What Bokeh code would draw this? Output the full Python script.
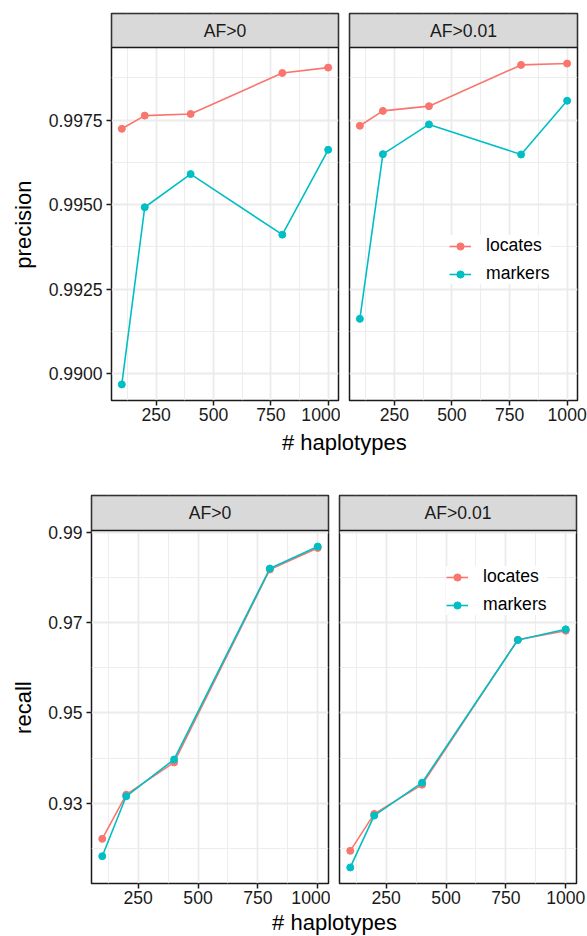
import math
from bokeh.plotting import figure
from bokeh.models import (Range1d, FixedTicker, NumeralTickFormatter, Label,
                          Legend, LegendItem)
from bokeh.layouts import column, row
from bokeh.embed import file_html
from bokeh.resources import INLINE

# ---------------- data ----------------
haplotypes = [100, 200, 400, 800, 1000]
facets = ["AF>0", "AF>0.01"]
series = ["locates", "markers"]

precision_af0_locates = [0.99724, 0.99763, 0.99768, 0.99889, 0.99905]
precision_af0_markers = [0.98968, 0.99492, 0.99590, 0.99411, 0.99662]
precision_af001_locates = [0.99733, 0.99777, 0.99791, 0.99913, 0.99917]
precision_af001_markers = [0.99162, 0.99649, 0.99737, 0.99648, 0.99807]

recall_af0_locates = [0.92214, 0.93192, 0.93905, 0.98174, 0.98651]
recall_af0_markers = [0.91830, 0.93155, 0.93971, 0.98196, 0.98682]
recall_af001_locates = [0.91949, 0.92766, 0.93413, 0.96620, 0.96819]
recall_af001_markers = [0.91581, 0.92728, 0.93457, 0.96614, 0.96850]

x_ticks = [250, 500, 750, 1000]
x_minor = [125, 375, 625, 875]
precision_ticks = [0.9900, 0.9925, 0.9950, 0.9975]
precision_minor = [0.99125, 0.99375, 0.99625, 0.99875]
recall_ticks = [0.93, 0.95, 0.97, 0.99]
recall_minor = [0.92, 0.94, 0.96, 0.98]

# ---------------- style ----------------
FONT = "Liberation Sans"
COLORS = {"locates": "#F8766D", "markers": "#00BFC4"}
GRID = "#EBEBEB"
INK = "#1A1A1A"
TICK_PX = "17.6px"
TITLE_PX = "22px"
PANEL_PX = 353
BOTTOM_PX = 28


def expand(vals, frac=0.05):
    lo, hi = min(vals), max(vals)
    d = (hi - lo) * frac
    return lo - d, hi + d


def base_fig(width, height, xr, yr, left, right, top, bottom, axes=True):
    kw = {}
    if not axes:
        kw = dict(x_axis_type=None, y_axis_type=None)
    f = figure(width=width, height=height, x_range=Range1d(*xr), y_range=Range1d(*yr),
               toolbar_location=None, output_backend="svg", title=None,
               min_border_left=left, min_border_right=right,
               min_border_top=top, min_border_bottom=bottom, **kw)
    f.background_fill_color = "white"
    f.border_fill_color = "white"
    return f


def facet(width, height, left, right, top, strip_px, yr, ymajor, yminor, yfmt,
          label, data, show_y, legend_loc=None):
    xr = expand(haplotypes)
    y0, y1 = yr
    ytop = y1 + strip_px / PANEL_PX * (y1 - y0)
    p = base_fig(width, height, xr, (y0, ytop), left, right, top, BOTTOM_PX)
    p.outline_line_color = INK
    p.outline_line_width = 1.5

    xt = FixedTicker(ticks=x_ticks, minor_ticks=x_minor)
    yt = FixedTicker(ticks=ymajor, minor_ticks=yminor)
    p.xaxis.ticker = xt
    p.yaxis.ticker = yt
    p.xgrid.ticker = xt
    p.ygrid.ticker = yt
    p.yaxis.formatter = NumeralTickFormatter(format=yfmt)
    for g in (p.xgrid, p.ygrid):
        g.grid_line_color = GRID
        g.grid_line_width = 1.8
        g.minor_grid_line_color = GRID
        g.minor_grid_line_width = 0.9
    for ax in (p.xaxis, p.yaxis):
        ax.axis_line_color = None
        ax.major_tick_in = 0
        ax.major_tick_out = 5
        ax.major_tick_line_color = INK
        ax.major_tick_line_width = 1.5
        ax.minor_tick_line_color = None
        ax.major_label_text_font = FONT
        ax.major_label_text_font_size = TICK_PX
        ax.major_label_text_color = INK
    p.xaxis.major_label_standoff = 2
    p.yaxis.major_label_standoff = 4
    if not show_y:
        p.yaxis.visible = False

    items = []
    for name, vals in zip(series, data):
        ln = p.line(haplotypes, vals, line_color=COLORS[name], line_width=1.6)
        sc = p.scatter(haplotypes, vals, size=7, fill_color=COLORS[name],
                       line_color=COLORS[name])
        items.append(LegendItem(label=name, renderers=[ln, sc]))

    # facet strip (grey header box) drawn across the top of the frame
    p.quad(left=[xr[0]], right=[xr[1]], bottom=[y1], top=[ytop],
           fill_color="#D9D9D9", line_color=INK, line_width=1.5)
    p.add_layout(Label(x=(xr[0] + xr[1]) / 2, y=(y1 + ytop) / 2, text=label,
                       text_align="center", text_baseline="middle", text_font=FONT,
                       text_font_size=TICK_PX, text_color=INK))

    if legend_loc is not None:
        lg = Legend(items=items, location=legend_loc)
        lg.background_fill_color = "white"
        lg.background_fill_alpha = 1.0
        lg.border_line_color = None
        lg.label_text_font = FONT
        lg.label_text_font_size = TICK_PX
        lg.label_text_color = "black"
        lg.glyph_width = 22
        lg.glyph_height = 18
        lg.label_height = 18
        lg.label_standoff = 15
        lg.padding = 10
        lg.spacing = 7
        lg.margin = 0
        p.add_layout(lg)
    return p


def ylabel_fig(text, width, height, cx, cy_from_top):
    f = base_fig(width, height, (0, width), (0, height), 0, 0, 0, 0, axes=False)
    f.grid.visible = False
    f.outline_line_color = None
    f.add_layout(Label(x=cx, y=height - cy_from_top, text=text, angle=math.pi / 2,
                       text_align="center", text_baseline="middle", text_font=FONT,
                       text_font_size=TITLE_PX, text_color="black"))
    return f


def xlabel_fig(text, height, cx, baseline_from_top):
    f = base_fig(587, height, (0, 587), (0, height), 0, 0, 0, 0, axes=False)
    f.grid.visible = False
    f.outline_line_color = None
    f.add_layout(Label(x=cx, y=height - baseline_from_top, text=text, text_align="center",
                       text_baseline="alphabetic", text_font=FONT,
                       text_font_size=TITLE_PX, text_color="black"))
    return f


# ---------------- precision row ----------------
prec_range = expand(precision_af0_locates + precision_af0_markers +
                    precision_af001_locates + precision_af001_markers)
yl1 = ylabel_fig("precision", 45, 428, 22.5, 233.5)
p1 = facet(295, 428, 65, 2, 13, 34, prec_range, precision_ticks, precision_minor,
           "0.0000", facets[0], [precision_af0_locates, precision_af0_markers], True)
p2 = facet(247, 428, 9, 10, 13, 34, prec_range, precision_ticks, precision_minor,
           "0.0000", facets[1], [precision_af001_locates, precision_af001_markers], False,
           legend_loc=(100, 116))
t1 = xlabel_fig("# haplotypes", 65, 343.8, 14)

# ---------------- recall row ----------------
rec_range = expand(recall_af0_locates + recall_af0_markers +
                   recall_af001_locates + recall_af001_markers)
yl2 = ylabel_fig("recall", 45, 418, 22.5, 228.5)
p3 = facet(285, 418, 46, 2, 2, 35, rec_range, recall_ticks, recall_minor,
           "0.00", facets[0], [recall_af0_locates, recall_af0_markers], True)
p4 = facet(257, 418, 9, 11, 2, 35, rec_range, recall_ticks, recall_minor,
           "0.00", facets[1], [recall_af001_locates, recall_af001_markers], False,
           legend_loc=(107, 268))
t2 = xlabel_fig("# haplotypes", 25, 334, 11)

layout = column(row(yl1, p1, p2), t1, row(yl2, p3, p4), t2)

open("out.html", "w").write(file_html(layout, INLINE))
